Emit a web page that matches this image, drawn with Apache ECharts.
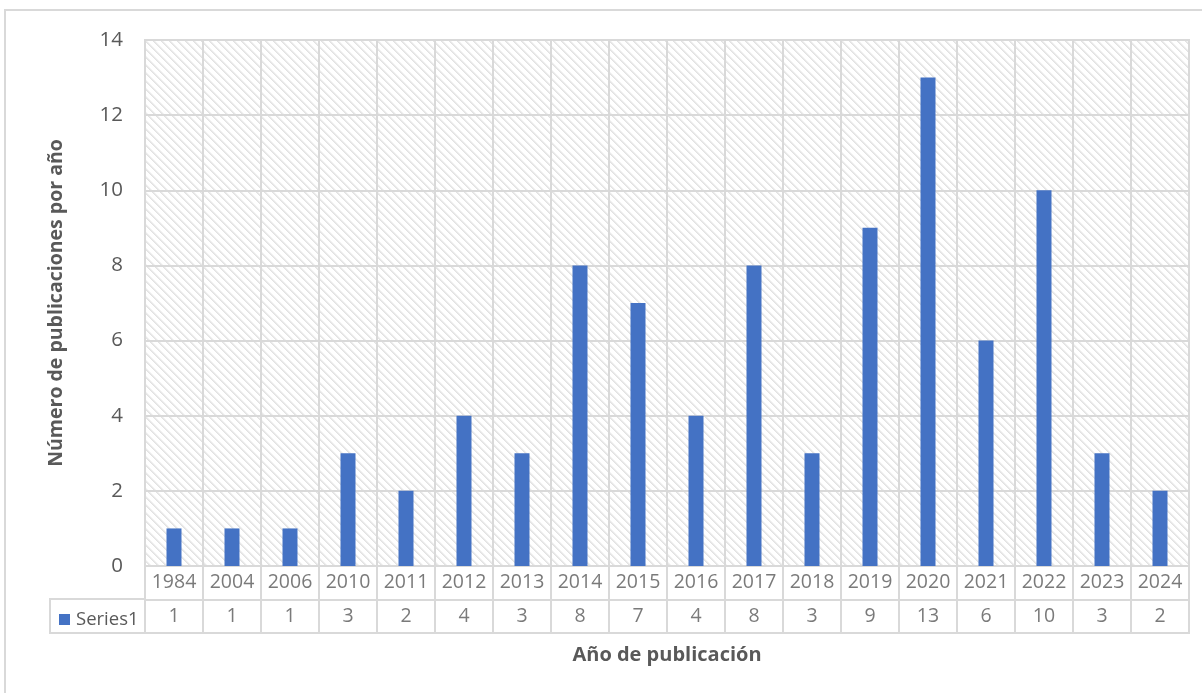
<!DOCTYPE html>
<html>
<head>
<meta charset="utf-8">
<script src="https://cdn.jsdelivr.net/npm/echarts@6/dist/echarts.min.js"></script>
<style>
  html, body { margin: 0; padding: 0; background: #ffffff; }
  #chart { width: 1202px; height: 693px; }
</style>
</head>
<body>
<div id="chart"></div>
<script>
// Publications per year
const years = ['1984', '2004', '2006', '2010', '2011', '2012', '2013', '2014', '2015',
               '2016', '2017', '2018', '2019', '2020', '2021', '2022', '2023', '2024'];
const publications = [1, 1, 1, 3, 2, 4, 3, 8, 7, 4, 8, 3, 9, 13, 6, 10, 3, 2];
const seriesName = 'Series1';
const yTicks = { min: 0, max: 14, step: 2 };

const FONT = '"Open Sans", "Noto Sans", sans-serif';
const TEXT = '#595959';
const LINE = '#d9d9d9';
const BAR = '#4472c4';

// Diagonal hatch tile used as the plot-area fill
function hatchTile() {
  const c = document.createElement('canvas');
  c.width = 8; c.height = 8;
  const ctx = c.getContext('2d');
  ctx.fillStyle = '#ffffff';
  ctx.fillRect(0, 0, 8, 8);
  for (let y = 0; y < 8; y++) {
    for (let x = 0; x < 8; x++) {
      const d = ((x - y) % 8 + 8) % 8;
      if (d === 0) { ctx.fillStyle = '#e2e2e2'; ctx.fillRect(x, y, 1, 1); }
      else if (d === 1) { ctx.fillStyle = '#e9e9e9'; ctx.fillRect(x, y, 1, 1); }
      else if (d === 2) { ctx.fillStyle = '#f4f4f4'; ctx.fillRect(x, y, 1, 1); }
    }
  }
  return c;
}

// Data-table cells: row 0 holds the years, row 1 the values
const tableCells = [];
years.forEach((yr, i) => {
  tableCells.push({ value: [i, 0], label: { formatter: yr } });
  tableCells.push({ value: [i, 1], label: { formatter: String(publications[i]) } });
});

const chart = echarts.init(document.getElementById('chart'), null, { renderer: 'canvas' });

chart.setOption({
  animation: false,
  backgroundColor: '#ffffff',
  textStyle: { fontFamily: FONT },
  grid: [
    {
      left: 145, right: 13, top: 40, bottom: 127,
      show: true,
      backgroundColor: { image: hatchTile(), repeat: 'repeat' },
      borderColor: LINE, borderWidth: 2
    },
    {
      left: 145, right: 13, top: 566, bottom: 60,
      show: true, backgroundColor: 'transparent',
      borderColor: LINE, borderWidth: 2
    }
  ],
  legend: {
    data: [seriesName],
    left: 54, top: 605,
    icon: 'rect', itemWidth: 11, itemHeight: 11, itemGap: 0,
    textStyle: { color: TEXT, fontSize: 18.5, fontFamily: FONT, padding: [0, 0, 0, 1] }
  },
  xAxis: [
    {
      gridIndex: 0, type: 'category', data: years,
      axisLine: { show: true, lineStyle: { color: LINE, width: 2 } },
      axisTick: { show: false },
      axisLabel: { show: false },
      splitLine: { show: true, lineStyle: { color: LINE, width: 2 } },
      name: 'Año de publicación', nameLocation: 'middle', nameGap: 79,
      nameTextStyle: { color: TEXT, fontSize: 20, fontWeight: 'bold', fontFamily: FONT }
    },
    {
      gridIndex: 1, type: 'category', data: years,
      axisLine: { show: false }, axisTick: { show: false }, axisLabel: { show: false },
      splitLine: { show: true, lineStyle: { color: LINE, width: 2 } }
    }
  ],
  yAxis: [
    {
      gridIndex: 0, type: 'value',
      min: yTicks.min, max: yTicks.max, interval: yTicks.step,
      axisLine: { show: false }, axisTick: { show: false },
      axisLabel: { color: TEXT, fontSize: 20.5, margin: 22, fontFamily: FONT },
      splitLine: { show: true, lineStyle: { color: LINE, width: 2 } },
      name: 'Número de publicaciones por año', nameLocation: 'middle', nameGap: 79,
      nameTextStyle: { color: TEXT, fontSize: 19.5, fontWeight: 'bold', fontFamily: FONT }
    },
    {
      gridIndex: 1, type: 'category', data: ['years', 'values'], inverse: true,
      axisLine: { show: false }, axisTick: { show: false }, axisLabel: { show: false },
      splitLine: { show: true, lineStyle: { color: LINE, width: 2 } }
    }
  ],
  graphic: [
    // outer chart frame
    { type: 'rect', shape: { x: 5, y: 10, width: 1220, height: 700 },
      style: { fill: 'none', stroke: LINE, lineWidth: 2 }, silent: true },
    // legend-key cell of the data table
    { type: 'rect', shape: { x: 50, y: 599, width: 95, height: 34 },
      style: { fill: 'none', stroke: LINE, lineWidth: 2 }, silent: true }
  ],
  series: [
    {
      name: seriesName, type: 'bar',
      xAxisIndex: 0, yAxisIndex: 0,
      data: publications, barWidth: 15,
      itemStyle: { color: BAR }
    },
    {
      name: 'table', type: 'scatter',
      xAxisIndex: 1, yAxisIndex: 1,
      symbolSize: 0, silent: true,
      data: tableCells,
      label: { show: true, position: 'inside', color: TEXT, fontSize: 19.5, fontFamily: FONT }
    }
  ]
});
</script>
</body>
</html>
